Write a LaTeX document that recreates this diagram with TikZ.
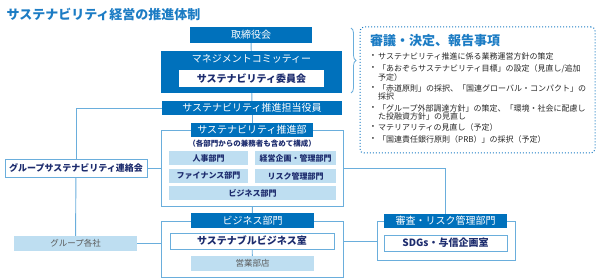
\documentclass[tikz,border=0pt]{standalone}
\usepackage{fontspec}
\setmainfont{Noto Sans CJK JP}
\usepackage{tikz}
\usetikzlibrary{positioning,calc,decorations.pathreplacing}
\definecolor{aozora}{HTML}{0071BC}
\definecolor{aozoraline}{HTML}{6AAEDC}
\definecolor{aozorapale}{HTML}{BEDEF1}
\definecolor{aozoranavy}{HTML}{1D2C6E}
\definecolor{aozoratitle}{HTML}{1C7CC4}
\definecolor{aozoragray}{HTML}{595959}

\begin{document}
\begin{tikzpicture}[x=1pt,y=-1pt,
  hdr/.style={fill=aozora,text=white,inner sep=0pt,font=\fontsize{10}{12}\selectfont},
  frame/.style={draw=aozoraline,line width=0.9pt,inner sep=0pt},
  whitebox/.style={draw=aozoraline,line width=0.9pt,fill=white,text=aozoranavy,inner sep=0pt,font=\fontsize{10}{12}\selectfont\bfseries},
  dept/.style={fill=aozorapale,text=aozoranavy,inner sep=0pt,minimum height=14pt,font=\fontsize{8}{10}\selectfont\bfseries},
  site/.style={fill=aozorapale,text=aozoragray,inner sep=0pt,minimum height=15pt,font=\fontsize{8.5}{10}\selectfont},
  link/.style={draw=aozoraline,line width=0.9pt},
  itm/.style={anchor=north west,inner sep=0pt,align=left,text=black!85,font=\fontsize{8}{7.6}\selectfont},
  bul/.style={inner sep=0pt,text=black!85,font=\fontsize{7}{8}\selectfont}]
\useasboundingbox (0,0) rectangle (600,280);

% title
\node[anchor=west,text=aozoratitle,font=\fontsize{13}{15}\selectfont\bfseries] (title) at (3,14) {サステナビリティ経営の推進体制};

% upper chain
\node[hdr,minimum width=122pt,minimum height=16pt] (board) at (251,35) {取締役会};
\node[fill=aozora,minimum width=181pt,minimum height=42pt,inner sep=0pt] (mgmt) at (251.5,72) {};
\node[hdr] (mgmtlbl) at (251.5,59) {マネジメントコミッティー};
\node[fill=white,text=aozoranavy,minimum width=145pt,minimum height=17pt,inner sep=0pt,font=\fontsize{10}{12}\selectfont\bfseries] (iinkai) at (251.5,78.5) {サステナビリティ委員会};
\node[hdr,minimum width=180pt,minimum height=14pt] (yakuin) at (252,108) {サステナビリティ推進担当役員};

% promotion department
\node[frame,minimum width=182pt,minimum height=76pt] (suibox) at (252,168) {};
\node[hdr,minimum width=122pt,minimum height=14pt] (suihead) at (252,130) {サステナビリティ推進部};
\node[text=aozoranavy,inner sep=0pt,font=\fontsize{7.5}{9}\selectfont\bfseries] (suinote) at (252,144) {（各部門からの兼務者も含めて構成）};
\node[dept,minimum width=79pt] (jinji) at (208.5,158) {人事部門};
\node[dept,minimum width=81pt] (keiei) at (295.5,158) {経営企画・管理部門};
\node[dept,minimum width=79pt] (finance) at (208.5,176) {ファイナンス部門};
\node[dept,minimum width=81pt] (risk) at (295.5,176) {リスク管理部門};
\node[dept,minimum width=167pt] (bizdept) at (252.5,193) {ビジネス部門};

% group side
\node[whitebox,minimum width=142pt,minimum height=18pt,font=\fontsize{9}{11}\selectfont\bfseries] (renraku) at (76,168) {グループサステナビリティ連絡会};
\node[site,minimum width=123pt] (kakusha) at (75.5,243.5) {グループ各社};

% business division
\node[frame,minimum width=182pt,minimum height=56pt] (bizbox) at (252,249) {};
\node[hdr,minimum width=123pt,minimum height=15pt] (bizhead) at (252.5,220.5) {ビジネス部門};
\node[whitebox,minimum width=164pt,minimum height=16pt] (sbiz) at (252,241) {サステナブルビジネス室};
\node[site,minimum width=123pt] (eigyo) at (252.5,263.5) {営業部店};

% credit and risk
\node[frame,minimum width=138pt,minimum height=39pt] (shinbox) at (446,240.5) {};
\node[hdr,minimum width=123pt,minimum height=14pt] (shinhead) at (445.5,221) {審査・リスク管理部門};
\node[whitebox,minimum width=123pt,minimum height=16pt] (sdgs) at (445.5,243) {SDGs・与信企画室};

% connectors
\draw[link] (board) -- (mgmt);
\draw[link] (mgmt) -- (yakuin);
\draw[link] (yakuin) -- (suihead);
\draw[link] (suibox) -- (bizhead);
\draw[link] (sbiz) -- (eigyo);
\draw[link] (yakuin.west) -| (renraku.north);
\draw[link] (renraku) -- (kakusha);
\draw[link] (renraku) -- (suibox);
\draw[link] (kakusha.east) -- (kakusha.east -| bizbox.west);
\draw[link] (suibox.east) -| (shinhead.north);
\draw[link] (sbiz.east -| bizbox.east) -- (sbiz.east -| shinbox.west);

% matters box
\draw[aozoraline,line width=0.8pt,decorate,decoration={brace,amplitude=5pt}] (351,28) -- (351,93);
\node[draw=aozoratitle,dotted,line width=1pt,rounded corners=4pt,minimum width=235pt,minimum height=126pt,inner sep=0pt] (kobox) at (477.5,90) {};
\node[anchor=west,inner sep=0pt,text=aozoratitle,font=\fontsize{13}{15}\selectfont\bfseries] (kohead) at (370,41) {審議・決定、報告事項};
\node[bul] (b1) at (373,56) {•};
\node[itm] (t1) at (378,52.5) {サステナビリティ推進に係る業務運営方針の策定};
\node[bul] (b2) at (373,68) {•};
\node[itm] (t2) at (378,64.5) {「あおぞらサステナビリティ目標」の設定（見直し/追加\\予定）};
\node[bul] (b3) at (373,88) {•};
\node[itm] (t3) at (378,84.5) {「赤道原則」の採択、「国連グローバル・コンパクト」の\\採択};
\node[bul] (b4) at (373,108) {•};
\node[itm] (t4) at (378,104.5) {「グループ外部調達方針」の策定、「環境・社会に配慮し\\た投融資方針」の見直し};
\node[bul] (b5) at (373,127) {•};
\node[itm] (t5) at (378,123.5) {マテリアリティの見直し（予定）};
\node[bul] (b6) at (373,139) {•};
\node[itm] (t6) at (378,135.5) {「国連責任銀行原則（PRB）」の採択（予定）};
\end{tikzpicture}
\end{document}
